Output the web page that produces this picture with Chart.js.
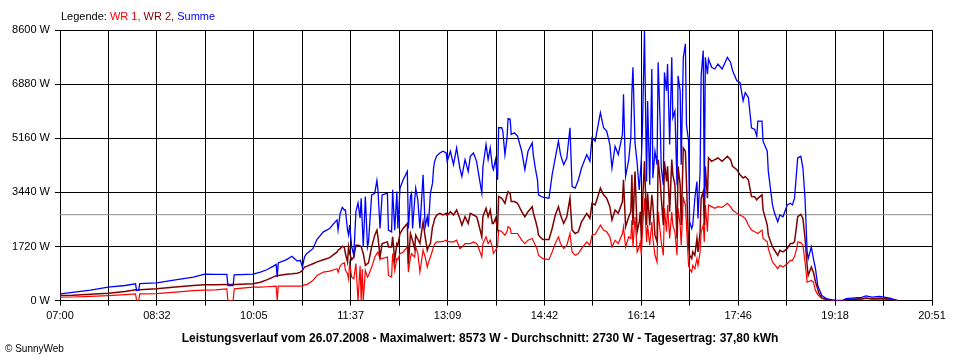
<!DOCTYPE html>
<html lang="de">
<head>
<meta charset="utf-8">
<title>Leistungsverlauf 26.07.2008</title>
<script src="https://cdn.jsdelivr.net/npm/chart.js@4.4.1/dist/chart.umd.min.js"></script>
<style>
    body { margin: 0; background: #fff; }
    #wrap { position: relative; width: 960px; height: 360px; font-family: 'Liberation Sans', Arial, sans-serif; color: #000; }
    #powerChart { display: block; }
    #legende { position: absolute; left: 61px; top: 10px; font-size: 11px; line-height: 13px; white-space: nowrap; }
    #copy { position: absolute; left: 5px; top: 343px; font-size: 10px; line-height: 12px; white-space: nowrap; }
</style>
</head>
<body>
<div id="wrap">
    <canvas id="powerChart" width="960" height="360"></canvas>
    <div id="legende">Legende: <span style="color:#ff0000">WR 1,</span> <span style="color:#800000">WR 2,</span> <span style="color:#0000ff">Summe</span></div>
    <div id="copy">&copy; SunnyWeb</div>
</div>
<script>
// minutes after 07:00
const minutes = [0, 12, 29, 46, 62, 72, 73, 75, 76, 92, 110, 127, 138, 148, 159, 160, 165, 166, 184, 191,
    197, 203, 206, 207, 208, 216, 221, 226, 229, 231, 233, 235, 241, 245, 251, 257, 261, 264, 265, 267,
    269, 271, 272, 274, 275, 276, 278, 280, 282, 284, 286, 287, 288, 289, 291, 293, 294, 297, 300, 302,
    303, 305, 307, 312, 313, 316, 317, 319, 321, 322, 324, 327, 331, 332, 334, 335, 336, 338, 339, 341,
    343, 346, 348, 350, 351, 353, 355, 356, 357, 359, 362, 365, 368, 369, 372, 375, 378, 381, 383, 386,
    389, 391, 394, 397, 398, 402, 403, 406, 408, 410, 412, 413, 415, 417, 418, 421, 422, 424, 426, 427,
    429, 430, 433, 436, 440, 443, 446, 450, 451, 453, 455, 456, 460, 466, 469, 472, 475, 477, 480, 483,
    486, 488, 491, 494, 497, 502, 505, 507, 510, 515, 518, 521, 524, 526, 529, 532, 536, 537, 539, 542,
    544, 545, 546, 548, 550, 552, 553, 554, 555, 557, 559, 560, 562, 564, 565, 567, 569, 570, 572, 573,
    575, 576, 578, 579, 581, 583, 584, 586, 588, 589, 591, 592, 594, 596, 597, 599, 600, 602, 603, 605,
    607, 608, 610, 611, 613, 614, 615, 617, 618, 621, 624, 627, 631, 636, 639, 641, 645, 648, 651, 653,
    656, 659, 662, 664, 665, 669, 670, 674, 675, 679, 681, 684, 686, 689, 693, 696, 698, 700, 702, 703,
    706, 708, 710, 712, 713, 716, 718, 720, 722, 723, 726, 731, 736, 740, 746, 749, 755, 760, 764, 768,
    774, 781, 787, 791, 798];

const summe = [214, 260, 330, 426, 480, 533, 320, 330, 540, 565, 660, 746, 840, 835, 832, 480, 480, 820, 840, 906,
    980, 1088, 1152, 746, 1200, 1301, 1408, 1258, 1280, 1066, 1386, 1493, 1650, 1950, 2186, 2293, 2453, 2560, 2240, 2773,
    2965, 2880, 2880, 2240, 2080, 2400, 1706, 1440, 2826, 3104, 2624, 3254, 2500, 1706, 3306, 1706, 1866, 3360, 3413, 3818,
    3520, 2293, 3360, 3413, 2240, 2186, 3520, 2240, 3466, 2293, 3573, 3840, 4106, 2293, 3328, 3413, 2293, 3200, 3573, 3200,
    2293, 4000, 2346, 2666, 2346, 3413, 3733, 4200, 4426, 4600, 4693, 4746, 4693, 4426, 4746, 4320, 4853, 4213, 3946, 4480,
    4106, 4586, 4693, 4426, 4213, 3413, 4240, 4960, 4480, 4853, 4266, 4160, 4480, 3840, 5493, 5493, 5386, 4640, 5173, 5781,
    5760, 5280, 5333, 5226, 4746, 4160, 4746, 5013, 4640, 4200, 3840, 3360, 3285, 3253, 4000, 4533, 5066, 4640, 4320, 4533,
    5493, 3626, 3573, 3840, 4213, 4640, 4426, 5173, 5066, 5973, 5493, 5386, 4960, 4213, 4906, 4640, 5280, 6560, 3946, 4480,
    5200, 6613, 7413, 5000, 4373, 3520, 4000, 4480, 5386, 8573, 3786, 6346, 3680, 7360, 3893, 4746, 4320, 7573, 5600, 4213,
    3680, 7253, 6666, 7520, 4960, 7733, 5813, 6026, 3680, 7146, 6666, 4320, 7733, 8160, 5600, 5066, 2506, 2293, 2400, 3253,
    3786, 2613, 4106, 7146, 7946, 3253, 7733, 7200, 7680, 7413, 7360, 7520, 7360, 7733, 7573, 7306, 6986, 6933, 6346, 6613,
    6453, 5493, 5440, 5226, 5706, 5706, 5066, 4746, 4106, 3040, 2773, 2506, 2720, 2666, 3040, 3093, 3040, 3253, 4106, 4533,
    4586, 4213, 3253, 1546, 1333, 1706, 1333, 1000, 500, 400, 160, 53, 20, 0, 0, 60, 80, 90, 100, 150,
    110, 130, 100, 80, 0];

const wr2 = [160, 170, 200, 234, 290, 341, 330, 335, 341, 373, 430, 480, 501, 505, 510, 510, 512, 512, 533, 586,
    660, 746, 790, 790, 800, 840, 853, 870, 906, 960, 1066, 1088, 1173, 1230, 1300, 1365, 1470, 1540, 1600, 1650,
    1728, 1690, 1493, 1226, 1706, 1500, 1300, 1386, 1760, 1760, 1740, 1720, 1600, 1500, 1120, 1173, 1200, 1706, 2080, 2240,
    2026, 1386, 1813, 1866, 1706, 1706, 2026, 1280, 1813, 1760, 2133, 2293, 2453, 1173, 2133, 2026, 1900, 1653, 2080, 1950,
    1813, 2506, 2026, 1600, 1700, 1813, 2346, 2453, 2600, 2720, 2773, 2720, 2773, 2700, 2826, 2720, 2880, 2613, 2400, 2666,
    2453, 2773, 2720, 2666, 2560, 2026, 2666, 2933, 2666, 2880, 2453, 2453, 2613, 2293, 3306, 3253, 3200, 3093, 3360, 3466,
    3400, 3146, 3146, 3093, 2826, 2666, 2826, 2986, 2800, 2560, 2300, 2080, 1941, 1941, 2293, 2720, 2986, 2720, 2453, 2666,
    3253, 2240, 2133, 2186, 2506, 2773, 2613, 3093, 3040, 3573, 3360, 3253, 2986, 2560, 2880, 2773, 3146, 3840, 2346, 2666,
    2826, 4000, 2400, 4106, 2186, 2500, 2826, 1973, 3000, 4426, 2400, 3413, 2400, 3360, 3040, 2080, 1866, 4480, 3786, 3253,
    2400, 4426, 3786, 4266, 2826, 4480, 4000, 3680, 1973, 4266, 3680, 2400, 4853, 4746, 3786, 1760, 1440, 1333, 1546, 1440,
    1973, 1546, 2186, 3253, 3466, 2400, 4266, 3253, 4533, 4426, 4480, 4533, 4426, 4586, 4480, 4266, 4160, 4000, 3893, 3946,
    3840, 3306, 3300, 3200, 3250, 3360, 2880, 2400, 2080, 1706, 1600, 1440, 1600, 1546, 1650, 1813, 1813, 1866, 2400, 2666,
    2741, 2613, 1973, 1120, 800, 1066, 900, 600, 373, 250, 80, 40, 15, 0, 0, 30, 40, 50, 55, 80,
    60, 70, 60, 40, 0];

const wr1 = [106, 115, 135, 160, 190, 213, 0, 0, 213, 219, 270, 320, 330, 340, 373, 0, 0, 373, 426, 430,
    440, 450, 458, 0, 458, 458, 458, 458, 458, 470, 501, 501, 640, 800, 906, 938, 980, 1013, 900, 1100,
    1173, 1200, 960, 853, 693, 1173, 746, 693, 1173, 0, 1100, 0, 1000, 0, 960, 746, 800, 1066, 1386, 1493,
    1546, 1333, 1333, 1386, 800, 746, 1493, 960, 1333, 1300, 1493, 1546, 1706, 906, 1386, 1493, 1450, 1386, 1706, 1500,
    906, 1600, 1386, 1066, 1200, 1386, 1600, 1706, 1800, 1866, 1866, 1880, 1920, 1880, 1866, 1866, 1920, 1653, 1700, 1813,
    1813, 1813, 1866, 1813, 1760, 1386, 1813, 2026, 1813, 1920, 1706, 1500, 1600, 1706, 2240, 2186, 2150, 2080, 2200, 2346,
    2300, 2133, 2133, 2133, 1920, 1813, 1920, 1973, 1900, 1760, 1600, 1440, 1333, 1301, 1546, 1813, 2026, 1813, 1653, 1760,
    2133, 1546, 1440, 1493, 1653, 1866, 1760, 2080, 2110, 2400, 2240, 2186, 2026, 1706, 1920, 1813, 2133, 2346, 1706, 2026,
    1973, 2560, 1706, 2666, 1546, 1700, 1866, 1440, 2200, 3253, 1866, 2400, 1760, 2506, 1973, 1440, 1226, 2826, 2186, 1866,
    1440, 2933, 2186, 3040, 1973, 2826, 2400, 2186, 1440, 2933, 2400, 1760, 3253, 3040, 2400, 1120, 1013, 906, 1120, 1013,
    1333, 1120, 1546, 2186, 2400, 1866, 3040, 2186, 3040, 2986, 2933, 2986, 2960, 3093, 2986, 2880, 2773, 2720, 2666, 2613,
    2400, 2240, 2186, 2150, 2133, 2240, 1973, 1866, 1653, 1226, 1141, 1013, 1120, 1066, 1173, 1280, 1280, 1400, 1653, 1866,
    1845, 1760, 1226, 586, 600, 640, 586, 320, 200, 160, 75, 20, 10, 0, 0, 30, 40, 40, 45, 70,
    50, 60, 50, 40, 0];

const durchschnitt = 2730;
const dayLength = 831; // 07:00 .. 20:51
const xTickLabels = ['07:00', '08:32', '10:05', '11:37', '13:09', '14:42', '16:14', '17:46', '19:18', '20:51'];
const titleText = 'Leistungsverlauf vom 26.07.2008 - Maximalwert: 8573 W - Durchschnitt: 2730 W - Tagesertrag: 37,80 kWh';

const toPoints = arr => arr.map((v, i) => ({ x: minutes[i], y: v }));
const font = 'Liberation Sans, Arial, sans-serif';

const ctx = document.getElementById('powerChart').getContext('2d');

new Chart(ctx, {
    type: 'line',
    data: {
        datasets: [
            { label: 'Summe', data: toPoints(summe), borderColor: '#0000ff', borderWidth: 1.3, order: 1 },
            { label: 'WR 2', data: toPoints(wr2), borderColor: '#800000', borderWidth: 1.5, order: 2 },
            { label: 'WR 1', data: toPoints(wr1), borderColor: '#ff0000', borderWidth: 1.2, order: 3 },
            {
                label: 'Durchschnitt',
                data: [{ x: 0, y: durchschnitt }, { x: dayLength, y: durchschnitt }],
                borderColor: '#8c8c8c',
                borderWidth: 1,
                order: 4
            }
        ]
    },
    options: {
        responsive: false,
        animation: false,
        devicePixelRatio: 1,
        datasets: {
            line: { pointRadius: 0, tension: 0, fill: false }
        },
        layout: { padding: { left: 0, right: 0, top: 30, bottom: 11 } },
        plugins: {
            legend: { display: false },
            tooltip: { enabled: false },
            title: {
                display: true,
                position: 'bottom',
                text: titleText,
                color: '#000',
                font: { family: font, size: 12, weight: 'bold' },
                padding: { top: 7, bottom: 3 }
            }
        },
        scales: {
            x: {
                type: 'linear',
                min: 0,
                max: dayLength,
                afterBuildTicks: axis => {
                    axis.ticks = [];
                    for (let i = 0; i <= 18; i++) axis.ticks.push({ value: i * dayLength / 18 });
                },
                afterFit: axis => { axis.height = 24; },
                ticks: {
                    autoSkip: false,
                    maxRotation: 0,
                    padding: 4,
                    color: '#000',
                    font: { family: font, size: 11 },
                    callback: (value, index) => index % 2 === 0 ? xTickLabels[index / 2] : ''
                },
                grid: { color: '#000', tickLength: 5 },
                border: { color: '#000' }
            },
            y: {
                min: 0,
                max: 8600,
                afterFit: axis => { axis.width = 60; },
                ticks: {
                    stepSize: 1720,
                    padding: 5,
                    color: '#000',
                    font: { family: font, size: 11 },
                    callback: v => v + ' W'
                },
                grid: { color: '#000', tickLength: 5 },
                border: { color: '#000' }
            },
            // empty right margin, so the plot ends at 20:51 while the title stays centred
            margin: {
                position: 'right',
                min: 0,
                max: 8600,
                afterFit: axis => { axis.width = 28; },
                ticks: { display: false },
                grid: { display: false },
                border: { display: false }
            }
        }
    }
});
</script>
</body>
</html>
